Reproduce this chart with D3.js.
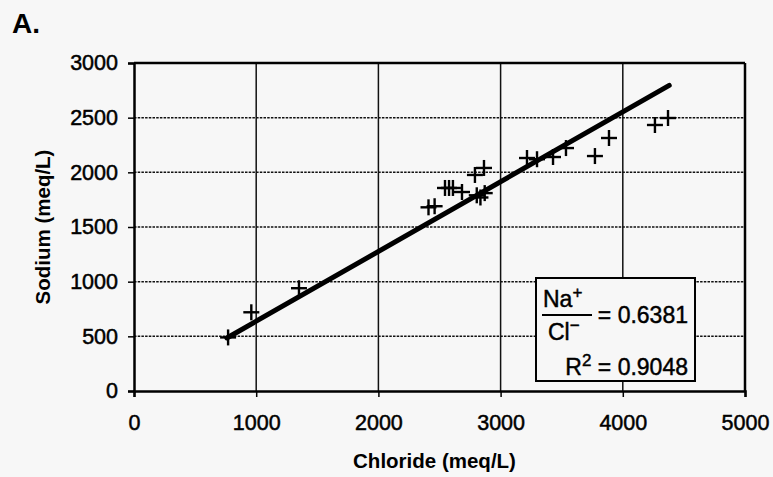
<!DOCTYPE html>
<html>
<head>
<meta charset="utf-8">
<script src="https://cdn.jsdelivr.net/npm/d3@7"></script>
<style>
  html, body { margin: 0; padding: 0; background: #f7f7f7; }
  svg { display: block; }
  text { font-family: "Liberation Sans", Arial, sans-serif; fill: #000; }
</style>
</head>
<body>
<svg id="chart" width="773" height="477"></svg>
<script>
// ---- data ----
const chloride = [770, 960, 1350, 2410, 2460, 2545, 2578, 2610, 2684, 2790, 2864, 2805, 2835, 2870, 3216, 3298, 3429, 3535, 3772, 3887, 4263, 4370];
const sodium   = [490, 720, 940, 1680, 1690, 1857, 1857, 1857, 1820, 1976, 2040, 1790, 1770, 1810, 2131, 2120, 2140, 2222, 2149, 2314, 2433, 2497];
const xTicks = [0, 1000, 2000, 3000, 4000, 5000];
const yTicks = [0, 500, 1000, 1500, 2000, 2500, 3000];
const fitSlope = 0.6381;
const fitRange = [760, 4380];
const r2 = 0.9048;
const panelLabel = "A.";
const xTitle = "Chloride (meq/L)";
const yTitle = "Sodium (meq/L)";

// ---- layout ----
const W = 773, H = 477;
const m = {left: 134, right: 28, top: 63, bottom: 86};
const pw = W - m.left - m.right, ph = H - m.top - m.bottom;

const svg = d3.select("#chart");
svg.append("rect").attr("width", W).attr("height", H).attr("fill", "#f7f7f7");

const x = d3.scaleLinear().domain([0, 5000]).range([0, pw]);
const y = d3.scaleLinear().domain([0, 3000]).range([ph, 0]);

const g = svg.append("g").attr("transform", `translate(${m.left},${m.top})`);

// horizontal dotted grid
g.selectAll(".hg").data(yTicks.filter(v => v > 0 && v < 3000)).enter()
  .append("line")
  .attr("x1", 0).attr("x2", pw)
  .attr("y1", d => y(d)).attr("y2", d => y(d))
  .attr("stroke", "#111").attr("stroke-width", 1.5)
  .attr("stroke-dasharray", "2.5,1.2");

// vertical solid grid
g.selectAll(".vg").data(xTicks.filter(v => v > 0 && v < 5000)).enter()
  .append("line")
  .attr("x1", d => x(d)).attr("x2", d => x(d))
  .attr("y1", 0).attr("y2", ph)
  .attr("stroke", "#111").attr("stroke-width", 1.5);

// top and right border
g.append("line").attr("x1", 0).attr("x2", pw).attr("y1", 0).attr("y2", 0)
  .attr("stroke", "#000").attr("stroke-width", 2.5);
g.append("line").attr("x1", pw).attr("x2", pw).attr("y1", 0).attr("y2", ph)
  .attr("stroke", "#000").attr("stroke-width", 2.5);

// axes
const xAxis = d3.axisBottom(x).tickValues(xTicks).tickSize(6).tickPadding(18).tickFormat(d3.format("d"));
const yAxis = d3.axisLeft(y).tickValues(yTicks).tickSize(6).tickPadding(10).tickFormat(d3.format("d"));

const gx = g.append("g").attr("transform", `translate(0,${ph})`).call(xAxis);
const gy = g.append("g").call(yAxis);
[gx, gy].forEach(a => {
  a.select(".domain").attr("stroke", "#000").attr("stroke-width", 2.5);
  a.selectAll(".tick line").attr("stroke", "#000").attr("stroke-width", 1.5);
  a.selectAll(".tick text").attr("font-size", 21.5)
    .attr("font-family", "'Liberation Sans', Arial, sans-serif")
    .attr("fill", "#000").attr("stroke", "#000").attr("stroke-width", 0.5);
});

// regression line
g.append("line")
  .attr("x1", x(fitRange[0])).attr("y1", y(fitSlope * fitRange[0]))
  .attr("x2", x(fitRange[1])).attr("y2", y(fitSlope * fitRange[1]))
  .attr("stroke", "#000").attr("stroke-width", 5).attr("stroke-linecap", "round");

// points as "+"
const pts = chloride.map((c, i) => ({c, s: sodium[i]}));
const arm = 8;
const pg = g.selectAll(".pt").data(pts).enter().append("g")
  .attr("transform", d => `translate(${x(d.c)},${y(d.s)})`);
pg.append("line").attr("x1", -arm).attr("x2", arm).attr("y1", 0).attr("y2", 0)
  .attr("stroke", "#000").attr("stroke-width", 2.4);
pg.append("line").attr("x1", 0).attr("x2", 0).attr("y1", -arm).attr("y2", arm)
  .attr("stroke", "#000").attr("stroke-width", 2.4);

// annotation box
const bx = 536 - m.left, by = 278 - m.top, bw = 159, bh = 103;
g.append("rect").attr("x", bx).attr("y", by).attr("width", bw).attr("height", bh)
  .attr("fill", "#f7f7f7").attr("stroke", "#000").attr("stroke-width", 2);

const fs = 23;
const tStroke = 0.45;
const na = g.append("text").attr("x", bx + 7).attr("y", 307 - m.top).attr("font-size", fs)
  .attr("stroke", "#000").attr("stroke-width", tStroke);
na.append("tspan").text("Na");
na.append("tspan").attr("dy", -9).attr("font-size", 17).text("+");

g.append("line").attr("x1", bx + 6).attr("x2", bx + 56)
  .attr("y1", 315 - m.top).attr("y2", 315 - m.top)
  .attr("stroke", "#000").attr("stroke-width", 2);

const cl = g.append("text").attr("x", bx + 12).attr("y", 340 - m.top).attr("font-size", fs)
  .attr("stroke", "#000").attr("stroke-width", tStroke);
cl.append("tspan").text("Cl");
cl.append("tspan").attr("dy", -9).attr("font-size", 17).text("\u2212");

g.append("text").attr("x", bx + 152).attr("y", 323 - m.top).attr("font-size", fs)
  .attr("stroke", "#000").attr("stroke-width", tStroke)
  .attr("text-anchor", "end").text("= " + fitSlope.toFixed(4));

const rt = g.append("text").attr("x", bx + 152).attr("y", 375 - m.top).attr("font-size", fs)
  .attr("stroke", "#000").attr("stroke-width", tStroke)
  .attr("text-anchor", "end");
rt.append("tspan").text("R");
rt.append("tspan").attr("dy", -9).attr("font-size", 17).text("2");
rt.append("tspan").attr("dy", 9).text(" = " + r2.toFixed(4));

// titles
svg.append("text").attr("x", 12).attr("y", 33).attr("font-size", 28).attr("font-weight", "bold")
  .text(panelLabel);
svg.append("text").attr("x", m.left + pw / 2 - 5).attr("y", 468).attr("font-size", 20.5)
  .attr("font-weight", "bold").attr("text-anchor", "middle").text(xTitle);
svg.append("text").attr("transform", `translate(50,227) rotate(-90)`).attr("font-size", 20.5)
  .attr("font-weight", "bold").attr("text-anchor", "middle").text(yTitle);
</script>
</body>
</html>
